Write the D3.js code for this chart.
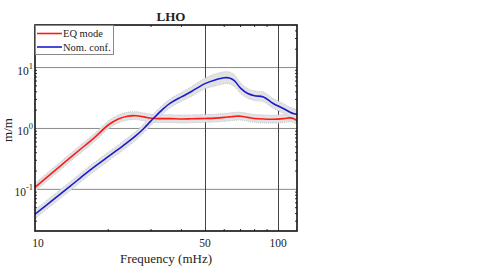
<!DOCTYPE html>
<html><head><meta charset="utf-8">
<script src="https://cdn.jsdelivr.net/npm/d3@7"></script>
<style>body{margin:0;background:#fff}svg{display:block}text{font-family:"Liberation Serif","Times New Roman",serif;fill:#222}</style>
</head><body>
<svg id="c" width="481" height="273"></svg>
<script>
const title = "LHO";
const xLabel = "Frequency (mHz)";
const yLabel = "m/m";
const seriesNames = ["EQ mode", "Nom. conf."];
const seriesColors = ["#ff1a1a", "#1a1ad0"];
const freq = [10, 12, 14, 16, 17.7, 20, 22, 24, 26, 28, 30, 33, 36, 40, 44, 50, 55, 60, 63, 66, 70, 75, 80, 87, 95, 105, 112, 116, 120];
const eqMode = [0.108, 0.20, 0.335, 0.52, 0.73, 1.14, 1.43, 1.59, 1.62, 1.55, 1.47, 1.45, 1.45, 1.43, 1.44, 1.46, 1.48, 1.52, 1.55, 1.58, 1.59, 1.52, 1.46, 1.43, 1.42, 1.45, 1.49, 1.44, 1.32];
const nomConf = [0.039, 0.070, 0.114, 0.176, 0.24, 0.344, 0.455, 0.59, 0.76, 1.0, 1.33, 1.95, 2.6, 3.3, 4.05, 5.45, 6.25, 6.8, 6.75, 6.1, 4.6, 3.75, 3.45, 3.3, 2.6, 2.13, 1.85, 1.75, 1.7];
const eqSpread = [1.16, 1.16, 1.16, 1.16, 1.16, 1.16, 1.16, 1.16, 1.16, 1.16, 1.16, 1.16, 1.16, 1.16, 1.16, 1.16, 1.16, 1.16, 1.16, 1.16, 1.16, 1.16, 1.16, 1.16, 1.16, 1.16, 1.16, 1.16, 1.16];
const nomSpread = [1.18, 1.18, 1.18, 1.18, 1.18, 1.18, 1.18, 1.18, 1.18, 1.18, 1.18, 1.18, 1.18, 1.18, 1.2, 1.22, 1.25, 1.25, 1.25, 1.25, 1.22, 1.2, 1.2, 1.2, 1.2, 1.2, 1.2, 1.2, 1.2];
const xTicks = [10, 50, 100];
const xMinor = [20, 30, 40, 60, 70, 80, 90];
const yTicks = [0.1, 1, 10];
const yTickExp = ["-1", "0", "1"];
const xDomain = [10, 119.5];
const yDomain = [0.0207, 50];

const L = 35, R = 297, T = 25, B = 231;
const svg = d3.select("#c");
const x = d3.scaleLog().domain(xDomain).range([L, R]);
const y = d3.scaleLog().domain(yDomain).range([B, T]);

svg.append("defs").append("clipPath").attr("id", "clip")
  .append("rect").attr("x", L).attr("y", T).attr("width", R - L).attr("height", B - T);

// grid
const g = svg.append("g");
g.selectAll("line.hg").data(yTicks).join("line")
  .attr("x1", L).attr("x2", R).attr("y1", d => y(d)).attr("y2", d => y(d))
  .attr("stroke", "#8a8a8a").attr("stroke-width", 1);
g.selectAll("line.vg").data(xTicks.slice(1)).join("line")
  .attr("x1", d => Math.round(x(d)) + 0.5).attr("x2", d => Math.round(x(d)) + 0.5).attr("y1", T).attr("y2", B)
  .attr("stroke", "#444").attr("stroke-width", 1);

// minor ticks
const yMinor = [];
[0.01, 0.1, 1, 10].forEach(dec => { for (let k = 2; k <= 9; k++) { const v = dec * k; if (v > yDomain[0] && v < yDomain[1]) yMinor.push(v); } });
g.selectAll("line.xm").data(xMinor).join("line")
  .attr("x1", d => x(d)).attr("x2", d => x(d)).attr("y1", B).attr("y2", B - 2).attr("stroke", "#333");
g.selectAll("line.xm2").data(xMinor).join("line")
  .attr("x1", d => x(d)).attr("x2", d => x(d)).attr("y1", T).attr("y2", T + 2).attr("stroke", "#333");
g.selectAll("line.ym").data(yMinor).join("line")
  .attr("x1", L).attr("x2", L + 2).attr("y1", d => y(d)).attr("y2", d => y(d)).attr("stroke", "#333");
g.selectAll("line.ym2").data(yMinor).join("line")
  .attr("x1", R).attr("x2", R - 2).attr("y1", d => y(d)).attr("y2", d => y(d)).attr("stroke", "#333");

// bands and lines
const plot = svg.append("g").attr("clip-path", "url(#clip)");
const series = [
  { vals: eqMode, spread: eqSpread, color: seriesColors[0] },
  { vals: nomConf, spread: nomSpread, color: seriesColors[1] }
];
const crv = d3.curveCatmullRom.alpha(0.5);
series.forEach(s => {
  const pts = freq.map((f, i) => ({ f, v: s.vals[i], s: s.spread[i] }));
  const area = d3.area().curve(crv)
    .x(d => x(d.f)).y0(d => y(d.v / d.s)).y1(d => y(d.v * d.s));
  plot.append("path").datum(pts).attr("d", area)
    .attr("fill", "#e2e2e2").attr("stroke", "#c4c4c4").attr("stroke-width", 1).attr("stroke-dasharray", "1,1");
});
series.forEach(s => {
  const pts = freq.map((f, i) => ({ f, v: s.vals[i] }));
  const line = d3.line().curve(crv).x(d => x(d.f)).y(d => y(d.v));
  plot.append("path").datum(pts).attr("d", line)
    .attr("fill", "none").attr("stroke", s.color).attr("stroke-width", 1.6);
});

// frame
svg.append("rect").attr("x", L).attr("y", T).attr("width", R - L).attr("height", B - T)
  .attr("fill", "none").attr("stroke", "#111").attr("stroke-width", 1.6);

// tick labels
svg.selectAll("text.xt").data(xTicks).join("text")
  .attr("x", (d, i) => i === 0 ? x(d) + 3 : x(d)).attr("y", 247).attr("text-anchor", "middle")
  .attr("font-size", 11.5).text(d => d);
const yt = svg.selectAll("text.yt").data(yTicks).join("text")
  .attr("x", 33).attr("y", d => y(d) + 7).attr("text-anchor", "end").attr("font-size", 11.5);
yt.append("tspan").text("10");
yt.append("tspan").attr("dy", -6).attr("font-size", 8.5).text((d, i) => yTickExp[i]);

// axis labels
svg.append("text").attr("x", 166).attr("y", 263).attr("text-anchor", "middle").attr("font-size", 13).text(xLabel);
svg.append("text").attr("transform", "translate(12,130) rotate(-90)").attr("text-anchor", "middle").attr("font-size", 13).text(yLabel);
svg.append("text").attr("x", 171).attr("y", 21).attr("text-anchor", "middle").attr("font-size", 13).attr("font-weight", "bold").text(title);

// legend
const lg = svg.append("g");
lg.append("rect").attr("x", L + 0.5).attr("y", T + 0.5).attr("width", 78).attr("height", 29)
  .attr("fill", "#fff").attr("stroke", "#888").attr("stroke-width", 1);
seriesNames.forEach((n, i) => {
  const yy = 33.5 + i * 13.5;
  lg.append("line").attr("x1", 37).attr("x2", 62).attr("y1", yy).attr("y2", yy)
    .attr("stroke", seriesColors[i]).attr("stroke-width", 1.6);
  lg.append("text").attr("x", 63).attr("y", yy + 3.5).attr("font-size", 10.5).text(n);
});
</script>
</body></html>
